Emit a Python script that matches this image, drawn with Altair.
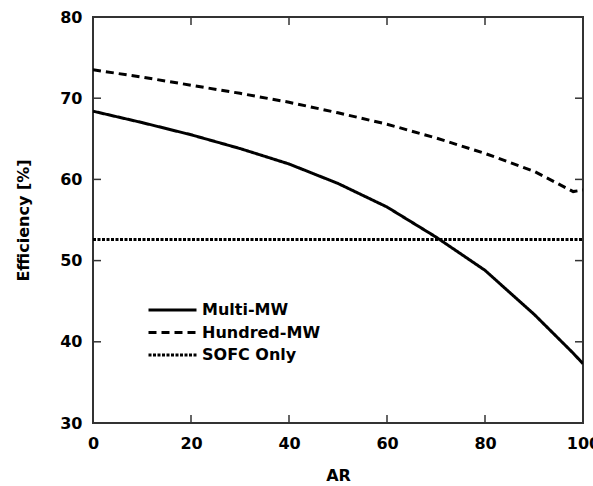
import altair as alt
import pandas as pd

# Efficiency [%] versus AR for each plant configuration
ar = [0, 10, 20, 30, 40, 50, 60, 70, 80, 90, 98, 100]
multi_mw = [68.4, 67.0, 65.5, 63.8, 61.9, 59.5, 56.6, 52.9, 48.8, 43.4, 38.6, 37.3]
hundred_mw = [73.5, 72.6, 71.6, 70.6, 69.5, 68.2, 66.8, 65.1, 63.2, 61.0, 58.5, 58.7]
sofc_ar = [0, 100]
sofc_only = [52.6, 52.6]

series_names = ["Multi-MW", "Hundred-MW", "SOFC Only"]
x_ticks = [20, 40, 60, 80]
y_ticks = [40, 50, 60, 70]

FONT = "DejaVu Sans"

rows = []
for a, v in zip(ar, multi_mw):
    rows.append({"series": "Multi-MW", "AR": a, "eff": v})
for a, v in zip(ar, hundred_mw):
    rows.append({"series": "Hundred-MW", "AR": a, "eff": v})
for a, v in zip(sofc_ar, sofc_only):
    rows.append({"series": "SOFC Only", "AR": a, "eff": v})
lines_df = pd.DataFrame(rows)

x_scale = alt.Scale(domain=[0, 100], nice=False, zero=False)
y_scale = alt.Scale(domain=[30, 80], nice=False, zero=False)

legend_props = dict(title=None, orient="none", legendX=54, legendY=284,
                    symbolType="stroke", symbolSize=2304,
                    symbolStrokeColor="black", clipHeight=18, rowPadding=4.5,
                    labelFont=FONT, labelFontSize=16,
                    labelFontWeight="bold", labelColor="black")

lines = alt.Chart(lines_df).mark_line(color="black", clip=True).encode(
    x=alt.X("AR:Q", scale=x_scale,
            axis=alt.Axis(title="AR", values=[0, 20, 40, 60, 80, 100],
                          ticks=False, domain=False, grid=False, labelFlush=False,
                          labelPadding=12, titlePadding=16)),
    y=alt.Y("eff:Q", scale=y_scale,
            axis=alt.Axis(title="Efficiency [%]", values=[30, 40, 50, 60, 70, 80],
                          ticks=False, domain=False, grid=False, labelFlush=False,
                          labelPadding=11, titlePadding=28)),
    strokeDash=alt.StrokeDash(
        "series:N",
        scale=alt.Scale(domain=series_names, range=[[1, 0], [8, 5], [3, 1.5]]),
        legend=alt.Legend(**legend_props),
    ),
    strokeWidth=alt.StrokeWidth(
        "series:N",
        scale=alt.Scale(domain=series_names, range=[3, 3, 2]),
        legend=alt.Legend(**legend_props),
    ),
    order=alt.Order("AR:Q"),
)

# inward tick marks on all four sides of the frame
xt = pd.DataFrame({"v": x_ticks})
yt = pd.DataFrame({"v": y_ticks})
tick_style = dict(color="#333", strokeWidth=1.5)

bottom_ticks = alt.Chart(xt).mark_rule(y2Offset=-8, **tick_style).encode(
    x=alt.X("v:Q", scale=x_scale), y=alt.datum(30, scale=y_scale), y2=alt.datum(30))
top_ticks = alt.Chart(xt).mark_rule(y2Offset=8, **tick_style).encode(
    x=alt.X("v:Q", scale=x_scale), y=alt.datum(80, scale=y_scale), y2=alt.datum(80))
left_ticks = alt.Chart(yt).mark_rule(x2Offset=8, **tick_style).encode(
    y=alt.Y("v:Q", scale=y_scale), x=alt.datum(0, scale=x_scale), x2=alt.datum(0))
right_ticks = alt.Chart(yt).mark_rule(x2Offset=-8, **tick_style).encode(
    y=alt.Y("v:Q", scale=y_scale), x=alt.datum(100, scale=x_scale), x2=alt.datum(100))

chart = alt.layer(lines, bottom_ticks, top_ticks, left_ticks, right_ticks).properties(
    width=490, height=406,
    autosize=alt.AutoSizeParams(type="none"),
    padding={"left": 93, "top": 17, "right": 10, "bottom": 63},
    background="white",
).configure_view(
    stroke="#333", strokeWidth=2,
).configure_axis(
    labelFont=FONT, labelFontSize=16, labelFontWeight="bold", labelColor="black",
    titleFont=FONT, titleFontSize=16, titleFontWeight="bold", titleColor="black",
)

chart.save("out.html", embed_options={"renderer": "svg", "actions": False})
